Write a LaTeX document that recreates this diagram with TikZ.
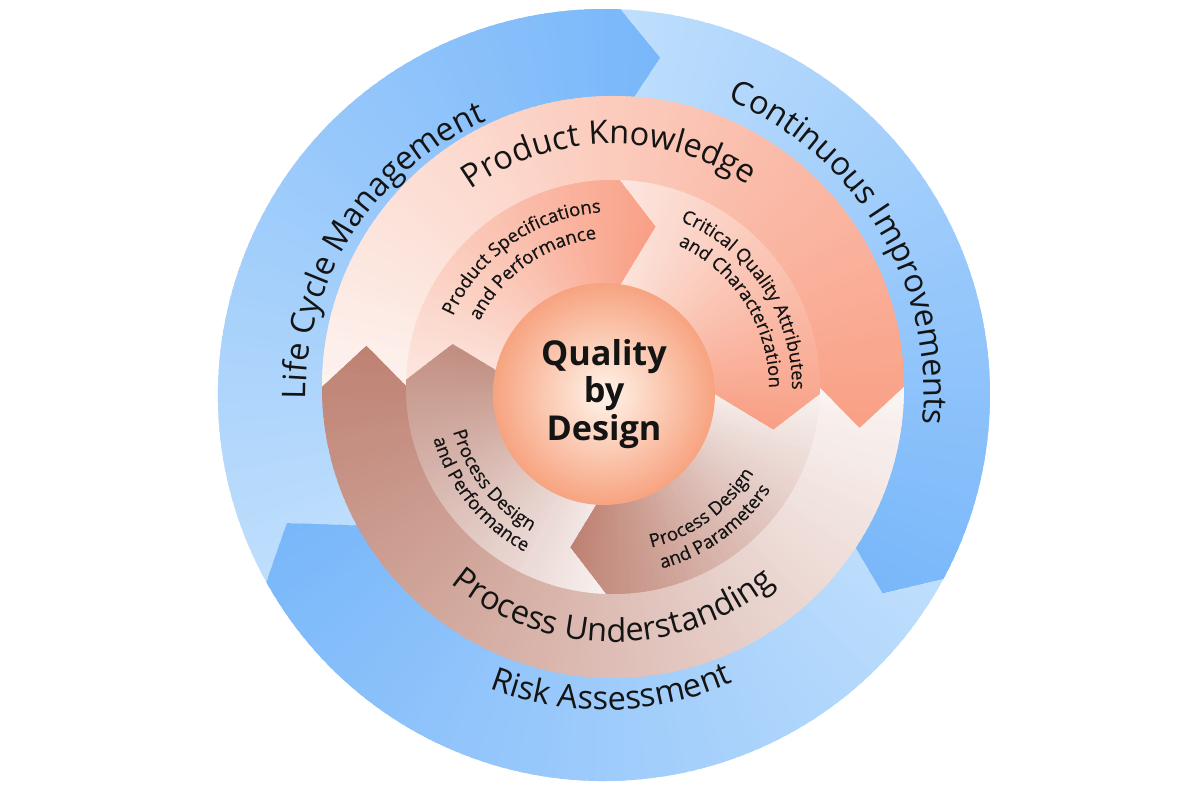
\documentclass[tikz,border=0pt]{standalone}
\usepackage{fontspec}
\setmainfont{Open Sans}
\newfontfamily\bandfamily[FakeBold=0.5]{Open Sans}
\usetikzlibrary{decorations.text}

\definecolor{bluetail}{RGB}{190,222,252}
\definecolor{bluehead}{RGB}{121,183,250}
\definecolor{salmontail}{RGB}{253,242,238}
\definecolor{salmonhead}{RGB}{249,160,134}
\definecolor{browntail}{RGB}{250,244,242}
\definecolor{brownhead}{RGB}{190,130,115}
\definecolor{pinktail}{RGB}{252,230,222}
\definecolor{greytail}{RGB}{247,240,238}
\definecolor{tanhead}{RGB}{193,142,129}
\definecolor{coreedge}{RGB}{247,163,128}
\definecolor{corecentre}{RGB}{255,244,234}
\definecolor{ink}{RGB}{20,20,20}

\newcommand{\ringfont}{\fontsize{18.5}{20}\selectfont}
\newcommand{\bandfont}{\bandfamily\fontsize{10.5}{12}\selectfont}

% band arrow: r in, r out, tail angle, head angle, tip offset, tail colour, head colour, tip radius
\newcommand{\bandarrow}[8]{%
  \pgfmathsetmacro{\tipang}{#4-#5}%
  \pgfmathsetmacro{\notchang}{#3-#5}%
  \pgfmathtruncatemacro{\nslice}{round((#3-\tipang)/1.5)}%
  \pgfmathsetmacro{\stepang}{(#3-\tipang)/\nslice}%
  \begin{scope}
    \clip (#3:#2) arc[start angle=#3, end angle=#4, radius=#2]
      -- (\tipang:#8) -- (#4:#1)
      arc[start angle=#4, end angle=#3, radius=#1]
      -- (\notchang:#8) -- cycle;
    \foreach \i in {1,...,\nslice}{
      \pgfmathsetmacro{\aa}{#3+0.5-(\i-1)*\stepang}
      \pgfmathsetmacro{\ab}{#3-\i*\stepang-0.5}
      \pgfmathtruncatemacro{\mixpc}{100*(\i-1)/(\nslice-1)}
      \fill[#7!\mixpc!#6] (\aa:#1-5) -- (\aa:#2+5) -- (\ab:#2+5) -- (\ab:#1-5) -- cycle;
    }
  \end{scope}}

\begin{document}
\begin{tikzpicture}[x=0.02cm, y=0.02cm,
    ringlabel/.style={decorate, decoration={text along path, text align=center,
      text color=ink, text={|\ringfont|#1}}},
    bandlabel/.style={decorate, decoration={text along path, text align=center,
      text color=ink, text={|\bandfont|#1}}},
    core/.style={circle, minimum size=4.44cm, inner sep=0pt, shading=radial,
      inner color=corecentre, outer color=coreedge, text=ink, align=center,
      font=\fontsize{19.5}{21.5}\selectfont\bfseries}
  ]
  \fill[white] (-613,-413) rectangle (587,387);
  \useasboundingbox (-613,-413) rectangle (587,387);

  % outer blue ring
  \begin{scope}[shift={(-9,-8)}]
    \bandarrow{270}{386}{209}{87.5}{7}{bluetail}{bluehead}{342}
    \bandarrow{270}{386}{87.5}{-28.5}{7}{bluetail}{bluehead}{342}
    \bandarrow{270}{386}{-28.5}{-151}{7}{bluetail}{bluehead}{342}
    \path[ringlabel=Life Cycle Management] (207:298) arc[start angle=207, end angle=87, radius=298];
    \path[ringlabel=Continuous Improvements] (91:320) arc[start angle=91, end angle=-29, radius=320];
    \path[ringlabel=Risk Assessment] (221.5:315) arc[start angle=221.5, end angle=321.5, radius=315];
  \end{scope}

  % knowledge / understanding ring
  \bandarrow{206}{291}{180}{0}{9.5}{salmontail}{salmonhead}{250}
  \bandarrow{206}{291}{0}{-180}{9.5}{browntail}{brownhead}{250}
  \path[ringlabel=Product Knowledge] (151:243) arc[start angle=151, end angle=31, radius=243];
  \path[ringlabel=Process Understanding] (210:255) arc[start angle=210, end angle=330, radius=255];

  % inner ring
  \bandarrow{95}{207}{178}{88}{13}{pinktail}{salmonhead}{166}
  \bandarrow{95}{207}{88}{-2}{13}{pinktail}{salmonhead}{166}
  \bandarrow{95}{207}{-2}{-92}{13}{greytail}{brownhead}{166}
  \bandarrow{95}{207}{-92}{-182}{13}{greytail}{tanhead}{166}

  \node[core] (qbd) at (-9,-7) {Quality\\by\\Design};

  \path[bandlabel=Product Specifications] (175:175) arc[start angle=175, end angle=75, radius=175];
  \path[bandlabel=and Performance] (180:149) arc[start angle=180, end angle=70, radius=149];
  \path[bandlabel=Critical Quality Attributes] (88:179) arc[start angle=88, end angle=-21, radius=179];
  \path[bandlabel=and Characterization] (88:156) arc[start angle=88, end angle=-23, radius=156];
  \path[bandlabel=Process Design] (-109:165) arc[start angle=-109, end angle=1, radius=165];
  \path[bandlabel=and Parameters] (-109:188) arc[start angle=-109, end angle=1, radius=188];
  \path[bandlabel=Process Design] (163:166) arc[start angle=163, end angle=273, radius=166];
  \path[bandlabel=and Performance] (164:187) arc[start angle=164, end angle=274, radius=187];
\end{tikzpicture}
\end{document}
